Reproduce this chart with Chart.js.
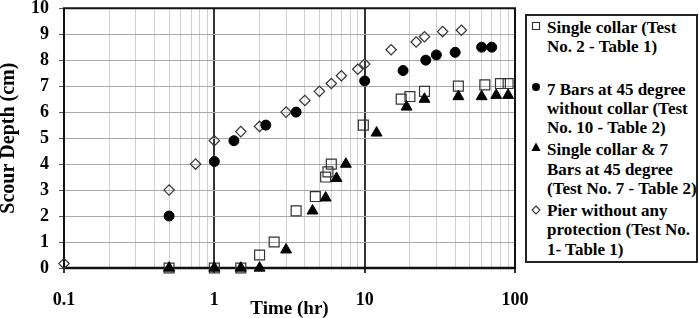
<!DOCTYPE html>
<html>
<head>
<meta charset="utf-8">
<script src="https://cdn.jsdelivr.net/npm/chart.js@4"></script>
<style>
  body { margin: 0; background: #fff; }
  #wrap { position: relative; width: 699px; height: 318px; }
  #legend {
    position: absolute; left: 525px; top: 14px; width: 169px; height: 245px;
    border: 2px solid #222; background: #fff;
    font: bold 17px "Liberation Serif", "Times New Roman", serif; line-height: 19.3px; color: #000;
  }
  .entry { position: absolute; left: 20px; white-space: nowrap; }
  .mk { position: absolute; left: -16px; width: 10px; height: 10px; }
</style>
</head>
<body>
<div id="wrap">
  <canvas id="c" width="699" height="318"></canvas>
  <div id="legend"></div>
</div>
<script>
// ---- data ----
const singleCollarTime  = [0.5, 1, 1.5, 2, 2.5, 3.5, 4.7, 5.5, 5.7, 6, 9.8, 17.5, 20, 25, 42, 63, 80, 90];
const singleCollarDepth = [0, 0, 0, 0.5, 1.0, 2.2, 2.75, 3.5, 3.7, 4.0, 5.5, 6.5, 6.6, 6.8, 7.0, 7.05, 7.1, 7.1];

const barsTime  = [0.5, 1, 1.35, 2.2, 3.5, 10, 18, 25.5, 30, 40, 60, 70];
const barsDepth = [2.0, 4.1, 4.9, 5.5, 6.0, 7.2, 7.6, 8.0, 8.2, 8.3, 8.5, 8.5];

const collarBarsTime  = [0.5, 1, 1.5, 2, 3, 4.5, 5.5, 6.5, 7.5, 12, 19, 25, 42, 60, 75, 90];
const collarBarsDepth = [0, 0, 0, 0, 0.7, 2.2, 2.7, 3.45, 4.0, 5.2, 6.2, 6.5, 6.6, 6.6, 6.65, 6.65];

const pierTime  = [0.1, 0.5, 0.75, 1, 1.5, 2, 3, 4, 5, 6, 7, 9, 10, 15, 22, 25, 33, 44];
const pierDepth = [0.17, 3.0, 4.0, 4.9, 5.25, 5.45, 6.0, 6.45, 6.8, 7.1, 7.4, 7.65, 7.85, 8.4, 8.7, 8.9, 9.1, 9.15];

const xTickDecades = [0.1, 1, 10, 100];
const yTickValues = [0, 1, 2, 3, 4, 5, 6, 7, 8, 9, 10];

const legendLabels = [
  ["Single collar (Test", "No. 2 - Table 1)"],
  ["7 Bars at 45 degree", "without collar (Test", "No. 10 - Table 2)"],
  ["Single collar & 7", "Bars at 45 degree", "(Test No. 7 - Table 2)"],
  ["Pier without any", "protection (Test No.", "1- Table 1)"]
];

const toPts = (xs, ys) => xs.map((x, i) => ({x: x, y: ys[i]}));

// all log grid positions 0.1..100
const xGridValues = [];
for (let d = 0; d < xTickDecades.length - 1; d++) {
  for (let m = 1; m <= 9; m++) xGridValues.push(+(xTickDecades[d] * m).toPrecision(6));
}
xGridValues.push(xTickDecades[xTickDecades.length - 1]);
const isMajor = v => xTickDecades.some(d => Math.abs(d - v) < 1e-9);

const FONT = "'Liberation Serif', 'Times New Roman', serif";

const frame = {
  id: 'frame',
  beforeDatasetsDraw(chart) {
    const {ctx, chartArea: a} = chart;
    ctx.save();
    ctx.strokeStyle = '#111';
    ctx.lineWidth = 2;
    ctx.beginPath();
    ctx.moveTo(a.left, a.bottom); ctx.lineTo(a.left, a.top); ctx.lineTo(a.right, a.top); ctx.lineTo(a.right, a.bottom);
    ctx.stroke();
    ctx.lineWidth = 2.5;
    ctx.beginPath();
    ctx.moveTo(a.left - 1, a.bottom); ctx.lineTo(a.right + 1, a.bottom);
    ctx.stroke();
    ctx.restore();
  }
};

new Chart(document.getElementById('c'), {
  type: 'scatter',
  data: {
    datasets: [
      { label: legendLabels[0].join(' '), data: toPts(singleCollarTime, singleCollarDepth),
        pointStyle: 'rect', pointRadius: 7, backgroundColor: 'rgba(255,255,255,0)', borderColor: '#333', borderWidth: 1.2, order: 2, clip: false },
      { label: legendLabels[1].join(' '), data: toPts(barsTime, barsDepth),
        pointStyle: 'circle', pointRadius: 5, backgroundColor: '#000', borderColor: '#000', borderWidth: 1, order: 1, clip: false },
      { label: legendLabels[2].join(' '), data: toPts(collarBarsTime, collarBarsDepth),
        pointStyle: 'triangle', pointRadius: 6.3, backgroundColor: '#000', borderColor: '#000', borderWidth: 1, order: 0, clip: false },
      { label: legendLabels[3].join(' '), data: toPts(pierTime, pierDepth),
        pointStyle: 'rectRot', pointRadius: 5.2, backgroundColor: 'rgba(255,255,255,0)', borderColor: '#333', borderWidth: 1.2, order: 3, clip: false }
    ]
  },
  options: {
    responsive: false,
    animation: false,
    devicePixelRatio: 1,
    layout: { padding: { top: 6, right: 184, left: 0, bottom: 0 } },
    plugins: { legend: { display: false }, tooltip: { enabled: false } },
    scales: {
      x: {
        type: 'logarithmic', min: 0.1, max: 100,
        afterBuildTicks: s => { s.ticks = xGridValues.map(v => ({value: v})); },
        afterFit: s => { s.height = 50; s.paddingLeft = 0; s.paddingRight = 0; },
        border: { display: false },
        grid: {
          color: c => isMajor(c.tick.value) ? '#333' : '#cfcfcf',
          lineWidth: c => isMajor(c.tick.value) ? 2 : 1,
          tickColor: c => isMajor(c.tick.value) ? '#333' : 'rgba(0,0,0,0)',
          tickLength: 5
        },
        ticks: {
          autoSkip: false, maxRotation: 0, padding: 17, color: '#000',
          font: { family: FONT, size: 18, weight: 'bold' },
          callback: v => isMajor(v) ? String(v) : ''
        },
        title: { display: true, text: 'Time (hr)', color: '#000',
          font: { family: FONT, size: 19, weight: 'bold' }, padding: { top: 0, bottom: -2 } }
      },
      y: {
        min: 0, max: 10,
        afterBuildTicks: s => { s.ticks = yTickValues.map(v => ({value: v})); },
        afterFit: s => { s.width = 64; s.paddingTop = 0; s.paddingBottom = 0; },
        border: { display: false },
        grid: { color: '#a8a8a8', lineWidth: 1, tickColor: '#555', tickLength: 5 },
        ticks: { padding: 10, color: '#000', font: { family: FONT, size: 18, weight: 'bold' } },
        title: { display: true, text: 'Scour Depth (cm)', color: '#000',
          font: { family: FONT, size: 20, weight: 'bold' }, padding: { top: -3, bottom: 0 } }
      }
    }
  },
  plugins: [frame]
});

// ---- HTML legend ----
const markers = [
  '<svg class="mk" viewBox="0 0 10 10"><rect x="1.5" y="1.5" width="7" height="7" fill="none" stroke="#333" stroke-width="1.1"/></svg>',
  '<svg class="mk" viewBox="0 0 10 10"><circle cx="5" cy="5" r="4" fill="#000"/></svg>',
  '<svg class="mk" viewBox="0 0 10 10"><polygon points="5,0.5 9.6,9 0.4,9" fill="#000"/></svg>',
  '<svg class="mk" viewBox="0 0 10 10"><polygon points="5,1 9,5 5,9 1,5" fill="none" stroke="#333" stroke-width="1.1"/></svg>'
];
const entryTops = [1.6, 63.6, 124.4, 185.0];
const markerTops = [3.3, 2.3, 1.5, 4.0];
const lg = document.getElementById('legend');
legendLabels.forEach((lines, i) => {
  const e = document.createElement('div');
  e.className = 'entry';
  e.style.top = entryTops[i] + 'px';
  e.innerHTML = markers[i].replace('class="mk"', 'class="mk" style="top:' + markerTops[i] + 'px"') +
    lines.map(l => l.replace(/&/g, '&amp;')).join('<br>');
  lg.appendChild(e);
});
</script>
</body>
</html>
